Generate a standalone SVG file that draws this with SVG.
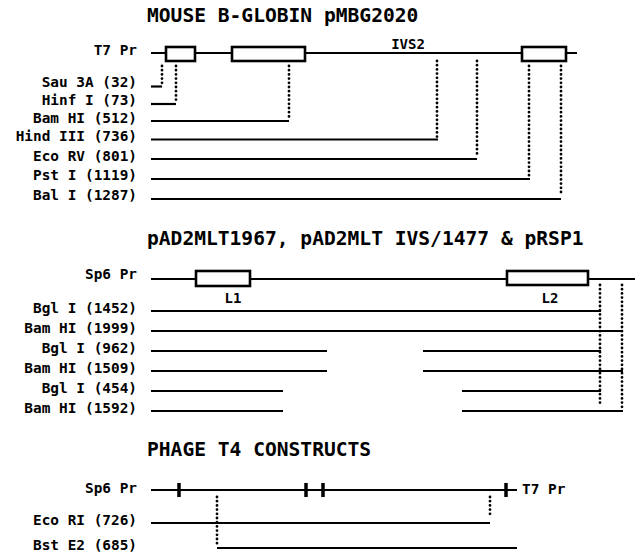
<svg xmlns="http://www.w3.org/2000/svg" width="636" height="554" viewBox="0 0 636 554">
<style>
text{font-family:"DejaVu Sans Mono","Liberation Mono",monospace;font-weight:bold;fill:#000}
.t{font-size:19.6px}
.l{font-size:14.4px;text-anchor:end}
.s{font-size:14px;text-anchor:middle}
.ln{stroke:#000;stroke-width:2.2;fill:none}
.bx{stroke:#000;stroke-width:2.6;fill:#fff}
.dt{stroke:#000;stroke-width:2.8;fill:none;stroke-linecap:round;stroke-dasharray:0 4.2}
.tk{stroke:#000;stroke-width:3.5;fill:none}
</style>
<rect width="636" height="554" fill="#fff"/>
<g id="titles">
<text class="t" x="147" y="22">MOUSE B-GLOBIN pMBG2020</text>
<text class="t" x="147" y="245">pAD2MLT1967, pAD2MLT IVS/1477 &amp; pRSP1</text>
<text class="t" x="147" y="456">PHAGE T4 CONSTRUCTS</text>
</g>
<g id="connectors">
<line class="ln" x1="151" y1="53" x2="577" y2="53"/>
<line class="ln" x1="151" y1="86.5" x2="162" y2="86.5"/>
<line class="ln" x1="151" y1="104" x2="176" y2="104"/>
<line class="ln" x1="151" y1="121" x2="289" y2="121"/>
<line class="ln" x1="151" y1="139.5" x2="438" y2="139.5"/>
<line class="ln" x1="151" y1="159" x2="477" y2="159"/>
<line class="ln" x1="151" y1="179" x2="530" y2="179"/>
<line class="ln" x1="151" y1="199" x2="561" y2="199"/>
<line class="dt" x1="162" y1="66" x2="162" y2="84"/>
<line class="dt" x1="176" y1="66" x2="176" y2="102"/>
<line class="dt" x1="289" y1="66" x2="289" y2="118"/>
<line class="dt" x1="437" y1="61" x2="437" y2="137"/>
<line class="dt" x1="477" y1="61" x2="477" y2="157"/>
<line class="dt" x1="529" y1="66" x2="529" y2="178"/>
<line class="dt" x1="561" y1="66" x2="561" y2="194"/>
<line class="ln" x1="151" y1="279" x2="635" y2="279"/>
<line class="ln" x1="151" y1="311" x2="601" y2="311"/>
<line class="ln" x1="151" y1="331" x2="623" y2="331"/>
<line class="ln" x1="151" y1="351" x2="327" y2="351"/>
<line class="ln" x1="423" y1="351" x2="601" y2="351"/>
<line class="ln" x1="151" y1="371" x2="327" y2="371"/>
<line class="ln" x1="423" y1="371" x2="623" y2="371"/>
<line class="ln" x1="151" y1="391" x2="283" y2="391"/>
<line class="ln" x1="462" y1="391" x2="601" y2="391"/>
<line class="ln" x1="151" y1="411" x2="283" y2="411"/>
<line class="ln" x1="462" y1="411" x2="623" y2="411"/>
<line class="dt" x1="600" y1="285" x2="600" y2="405"/>
<line class="dt" x1="622" y1="285" x2="622" y2="409"/>
<line class="ln" x1="151" y1="490" x2="517" y2="490"/>
<line class="tk" x1="179" y1="483" x2="179" y2="497"/>
<line class="tk" x1="306" y1="483" x2="306" y2="497"/>
<line class="tk" x1="323" y1="483" x2="323" y2="497"/>
<line class="tk" x1="506" y1="483" x2="506" y2="497"/>
<line class="ln" x1="151" y1="523" x2="490" y2="523"/>
<line class="ln" x1="217" y1="548" x2="517" y2="548"/>
<line class="dt" x1="490" y1="497" x2="490" y2="518"/>
<line class="dt" x1="217" y1="497" x2="217" y2="546"/>
</g>
<g id="exon1"><rect class="bx" x="166" y="47" width="29" height="14"/></g>
<g id="exon2"><rect class="bx" x="232" y="47" width="73" height="14"/></g>
<g id="exon3"><rect class="bx" x="522" y="47" width="44" height="14"/></g>
<g id="L1"><rect class="bx" x="196" y="271" width="54" height="15"/><text class="s" x="233" y="303">L1</text></g>
<g id="L2"><rect class="bx" x="507" y="271" width="81" height="14"/><text class="s" x="550" y="303">L2</text></g>
<g id="labels1">
<text class="l" x="137" y="55">T7 Pr</text>
<text class="s" x="408" y="49">IVS2</text>
<text class="l" x="137" y="87">Sau 3A (32)</text>
<text class="l" x="137" y="105">Hinf I (73)</text>
<text class="l" x="137" y="123">Bam HI (512)</text>
<text class="l" x="137" y="141">Hind III (736)</text>
<text class="l" x="137" y="161">Eco RV (801)</text>
<text class="l" x="137" y="180">Pst I (1119)</text>
<text class="l" x="137" y="200">Bal I (1287)</text>
</g>
<g id="labels2">
<text class="l" x="137" y="279">Sp6 Pr</text>
<text class="l" x="137" y="313">Bgl I (1452)</text>
<text class="l" x="137" y="333">Bam HI (1999)</text>
<text class="l" x="137" y="353">Bgl I (962)</text>
<text class="l" x="137" y="373">Bam HI (1509)</text>
<text class="l" x="137" y="393">Bgl I (454)</text>
<text class="l" x="137" y="413">Bam HI (1592)</text>
</g>
<g id="labels3">
<text class="l" x="137" y="493">Sp6 Pr</text>
<text x="522" y="494" style="font-size:14.4px">T7 Pr</text>
<text class="l" x="137" y="525">Eco RI (726)</text>
<text class="l" x="137" y="550">Bst E2 (685)</text>
</g>
</svg>
